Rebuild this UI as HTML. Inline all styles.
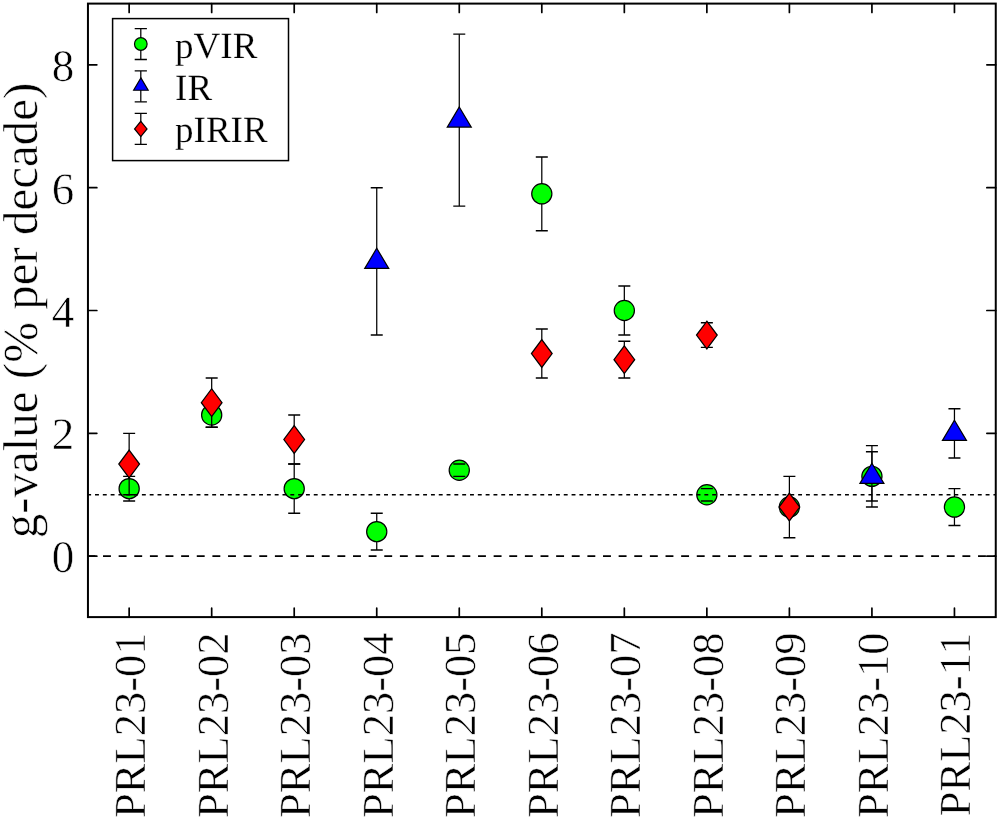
<!DOCTYPE html>
<html><head><meta charset="utf-8"><style>
html,body{margin:0;padding:0;background:#fff;width:999px;height:819px;overflow:hidden}
text{font-family:"Liberation Serif",serif;fill:#000;stroke:#fff;stroke-width:0.55px;text-rendering:geometricPrecision}
</style></head><body>
<svg width="999" height="819" viewBox="0 0 999 819" style="display:block;will-change:transform"><rect width="999" height="819" fill="#fff"/><path d="M129.15 476.35V500.92" stroke="#000" stroke-width="1.25" fill="none"/><circle cx="129.15" cy="488.64" r="10.1" fill="#00ff00" stroke="#000" stroke-width="1.2"/><path d="M123.15 476.35H135.15M123.15 500.92H135.15" stroke="#000" stroke-width="1.45" fill="none"/><path d="M211.68 402.65V427.22" stroke="#000" stroke-width="1.25" fill="none"/><circle cx="211.68" cy="414.93" r="10.1" fill="#00ff00" stroke="#000" stroke-width="1.2"/><path d="M205.68 402.65H217.68M205.68 427.22H217.68" stroke="#000" stroke-width="1.45" fill="none"/><path d="M294.21 464.07V513.21" stroke="#000" stroke-width="1.25" fill="none"/><circle cx="294.21" cy="488.64" r="10.1" fill="#00ff00" stroke="#000" stroke-width="1.2"/><path d="M288.21 464.07H300.21M288.21 513.21H300.21" stroke="#000" stroke-width="1.45" fill="none"/><path d="M376.74 513.21V550.06" stroke="#000" stroke-width="1.25" fill="none"/><circle cx="376.74" cy="531.63" r="10.1" fill="#00ff00" stroke="#000" stroke-width="1.2"/><path d="M370.74 513.21H382.74M370.74 550.06H382.74" stroke="#000" stroke-width="1.45" fill="none"/><path d="M459.27 464.07V476.35" stroke="#000" stroke-width="1.25" fill="none"/><circle cx="459.27" cy="470.21" r="10.1" fill="#00ff00" stroke="#000" stroke-width="1.2"/><path d="M453.27 464.07H465.27M453.27 476.35H465.27" stroke="#000" stroke-width="1.45" fill="none"/><path d="M541.80 156.97V230.67" stroke="#000" stroke-width="1.25" fill="none"/><circle cx="541.80" cy="193.82" r="10.1" fill="#00ff00" stroke="#000" stroke-width="1.2"/><path d="M535.80 156.97H547.80M535.80 230.67H547.80" stroke="#000" stroke-width="1.45" fill="none"/><path d="M624.33 285.95V335.09" stroke="#000" stroke-width="1.25" fill="none"/><circle cx="624.33" cy="310.52" r="10.1" fill="#00ff00" stroke="#000" stroke-width="1.2"/><path d="M618.33 285.95H630.33M618.33 335.09H630.33" stroke="#000" stroke-width="1.45" fill="none"/><path d="M706.86 488.64V500.92" stroke="#000" stroke-width="1.25" fill="none"/><circle cx="706.86" cy="494.78" r="10.1" fill="#00ff00" stroke="#000" stroke-width="1.2"/><path d="M700.86 488.64H712.86M700.86 500.92H712.86" stroke="#000" stroke-width="1.45" fill="none"/><path d="M789.39 500.92V513.21" stroke="#000" stroke-width="1.25" fill="none"/><circle cx="789.39" cy="507.06" r="10.1" fill="#00ff00" stroke="#000" stroke-width="1.2"/><path d="M783.39 500.92H795.39M783.39 513.21H795.39" stroke="#000" stroke-width="1.45" fill="none"/><path d="M871.92 451.79V500.92" stroke="#000" stroke-width="1.25" fill="none"/><circle cx="871.92" cy="476.35" r="10.1" fill="#00ff00" stroke="#000" stroke-width="1.2"/><path d="M865.92 451.79H877.92M865.92 500.92H877.92" stroke="#000" stroke-width="1.45" fill="none"/><path d="M954.45 488.64V525.49" stroke="#000" stroke-width="1.25" fill="none"/><circle cx="954.45" cy="507.06" r="10.1" fill="#00ff00" stroke="#000" stroke-width="1.2"/><path d="M948.45 488.64H960.45M948.45 525.49H960.45" stroke="#000" stroke-width="1.45" fill="none"/><path d="M87.2 494.78H995.76" stroke="#000" stroke-width="1.4" stroke-dasharray="3.9 3.9125"/><path d="M87.4 556.20H995.76" stroke="#000" stroke-width="1.7" stroke-dasharray="7.9 7.725"/><path d="M376.74 187.68V335.09" stroke="#000" stroke-width="1.25" fill="none"/><path d="M370.74 187.68H382.74M370.74 335.09H382.74" stroke="#000" stroke-width="1.45" fill="none"/><path d="M376.74 248.28L388.74 268.38L364.74 268.38Z" fill="#0000ff" stroke="#000" stroke-width="1.2" stroke-linejoin="miter"/><path d="M459.27 34.13V206.11" stroke="#000" stroke-width="1.25" fill="none"/><path d="M453.27 34.13H465.27M453.27 206.11H465.27" stroke="#000" stroke-width="1.45" fill="none"/><path d="M459.27 107.02L471.27 127.12L447.27 127.12Z" fill="#0000ff" stroke="#000" stroke-width="1.2" stroke-linejoin="miter"/><path d="M871.92 445.64V507.06" stroke="#000" stroke-width="1.25" fill="none"/><path d="M865.92 445.64H877.92M865.92 507.06H877.92" stroke="#000" stroke-width="1.45" fill="none"/><path d="M871.92 463.25L883.92 483.35L859.92 483.35Z" fill="#0000ff" stroke="#000" stroke-width="1.2" stroke-linejoin="miter"/><path d="M954.45 408.79V457.93" stroke="#000" stroke-width="1.25" fill="none"/><path d="M948.45 408.79H960.45M948.45 457.93H960.45" stroke="#000" stroke-width="1.45" fill="none"/><path d="M954.45 420.26L966.45 440.36L942.45 440.36Z" fill="#0000ff" stroke="#000" stroke-width="1.2" stroke-linejoin="miter"/><path d="M129.15 433.36V494.78" stroke="#000" stroke-width="1.25" fill="none"/><path d="M123.15 433.36H135.15M123.15 494.78H135.15" stroke="#000" stroke-width="1.45" fill="none"/><path d="M129.15 450.17L139.50 464.07L129.15 477.97L118.80 464.07Z" fill="#ff0000" stroke="#000" stroke-width="1.25"/><path d="M211.68 378.08V427.22" stroke="#000" stroke-width="1.25" fill="none"/><path d="M205.68 378.08H217.68M205.68 427.22H217.68" stroke="#000" stroke-width="1.45" fill="none"/><path d="M211.68 388.75L222.03 402.65L211.68 416.55L201.33 402.65Z" fill="#ff0000" stroke="#000" stroke-width="1.25"/><path d="M294.21 414.93V464.07" stroke="#000" stroke-width="1.25" fill="none"/><path d="M288.21 414.93H300.21M288.21 464.07H300.21" stroke="#000" stroke-width="1.45" fill="none"/><path d="M294.21 425.60L304.56 439.50L294.21 453.40L283.86 439.50Z" fill="#ff0000" stroke="#000" stroke-width="1.25"/><path d="M541.80 328.95V378.08" stroke="#000" stroke-width="1.25" fill="none"/><path d="M535.80 328.95H547.80M535.80 378.08H547.80" stroke="#000" stroke-width="1.45" fill="none"/><path d="M541.80 339.61L552.15 353.51L541.80 367.41L531.45 353.51Z" fill="#ff0000" stroke="#000" stroke-width="1.25"/><path d="M624.33 341.23V378.08" stroke="#000" stroke-width="1.25" fill="none"/><path d="M618.33 341.23H630.33M618.33 378.08H630.33" stroke="#000" stroke-width="1.45" fill="none"/><path d="M624.33 345.76L634.68 359.66L624.33 373.56L613.98 359.66Z" fill="#ff0000" stroke="#000" stroke-width="1.25"/><path d="M706.86 322.80V347.37" stroke="#000" stroke-width="1.25" fill="none"/><path d="M700.86 322.80H712.86M700.86 347.37H712.86" stroke="#000" stroke-width="1.45" fill="none"/><path d="M706.86 321.19L717.21 335.09L706.86 348.99L696.51 335.09Z" fill="#ff0000" stroke="#000" stroke-width="1.25"/><path d="M789.39 476.35V537.77" stroke="#000" stroke-width="1.25" fill="none"/><path d="M783.39 476.35H795.39M783.39 537.77H795.39" stroke="#000" stroke-width="1.45" fill="none"/><path d="M789.39 493.16L799.74 507.06L789.39 520.96L779.04 507.06Z" fill="#ff0000" stroke="#000" stroke-width="1.25"/><rect x="87.95" y="3.6" width="907.81" height="613.50" fill="none" stroke="#000" stroke-width="2.0"/><path d="M129.15 617.1V608.2M129.15 3.6V12.5M211.68 617.1V608.2M211.68 3.6V12.5M294.21 617.1V608.2M294.21 3.6V12.5M376.74 617.1V608.2M376.74 3.6V12.5M459.27 617.1V608.2M459.27 3.6V12.5M541.80 617.1V608.2M541.80 3.6V12.5M624.33 617.1V608.2M624.33 3.6V12.5M706.86 617.1V608.2M706.86 3.6V12.5M789.39 617.1V608.2M789.39 3.6V12.5M871.92 617.1V608.2M871.92 3.6V12.5M954.45 617.1V608.2M954.45 3.6V12.5M87.95 556.20H96.85000000000001M995.76 556.20H986.86M87.95 433.36H96.85000000000001M995.76 433.36H986.86M87.95 310.52H96.85000000000001M995.76 310.52H986.86M87.95 187.68H96.85000000000001M995.76 187.68H986.86M87.95 64.84H96.85000000000001M995.76 64.84H986.86" stroke="#000" stroke-width="1.7" stroke-linecap="round"/><text x="74.3" y="572.20" font-size="45" text-anchor="end">0</text><text x="74.3" y="449.36" font-size="45" text-anchor="end">2</text><text x="74.3" y="326.52" font-size="45" text-anchor="end">4</text><text x="74.3" y="203.68" font-size="45" text-anchor="end">6</text><text x="74.3" y="80.84" font-size="45" text-anchor="end">8</text><text transform="translate(145.05 632.50) rotate(-90)" font-size="44.5" text-anchor="end">PRL23-01</text><text transform="translate(227.58 632.50) rotate(-90)" font-size="44.5" text-anchor="end">PRL23-02</text><text transform="translate(310.11 632.50) rotate(-90)" font-size="44.5" text-anchor="end">PRL23-03</text><text transform="translate(392.64 632.50) rotate(-90)" font-size="44.5" text-anchor="end">PRL23-04</text><text transform="translate(475.17 632.50) rotate(-90)" font-size="44.5" text-anchor="end">PRL23-05</text><text transform="translate(557.70 632.50) rotate(-90)" font-size="44.5" text-anchor="end">PRL23-06</text><text transform="translate(640.23 632.50) rotate(-90)" font-size="44.5" text-anchor="end">PRL23-07</text><text transform="translate(722.76 632.50) rotate(-90)" font-size="44.5" text-anchor="end">PRL23-08</text><text transform="translate(805.29 632.50) rotate(-90)" font-size="44.5" text-anchor="end">PRL23-09</text><text transform="translate(887.82 632.50) rotate(-90)" font-size="44.5" text-anchor="end">PRL23-10</text><text transform="translate(970.35 632.50) rotate(-90)" font-size="44.5" text-anchor="end">PRL23-11</text><text transform="translate(36.5 310.5) rotate(-90)" font-size="49" text-anchor="middle">g-value (% per decade)</text><rect x="112.6" y="18.6" width="175.9" height="142" fill="#fff" stroke="#000" stroke-width="1.5"/><path d="M140.8 28.55V59.45" stroke="#000" stroke-width="1.25"/><path d="M140.8 70.90V101.80" stroke="#000" stroke-width="1.25"/><path d="M140.8 113.40V144.30" stroke="#000" stroke-width="1.25"/><circle cx="140.80" cy="44.00" r="6.3" fill="#00ff00" stroke="#000" stroke-width="1.2"/><path d="M140.9 77.85L148.20 90.20L133.60 90.20Z" fill="#0000ff" stroke="#000" stroke-width="1.15"/><path d="M140.80 121.35L147.00 128.95L140.80 136.55L134.60 128.95Z" fill="#ff0000" stroke="#000" stroke-width="1.25"/><path d="M134.70 28.55H146.90M134.70 59.45H146.90" stroke="#000" stroke-width="1.35"/><path d="M134.70 70.90H146.90M134.70 101.80H146.90" stroke="#000" stroke-width="1.35"/><path d="M134.70 113.40H146.90M134.70 144.30H146.90" stroke="#000" stroke-width="1.35"/><text x="175.1" y="57.5" font-size="37" style="stroke-width:0.2px">pVIR</text><text x="175.1" y="100.0" font-size="37" style="stroke-width:0.2px">IR</text><text x="175.1" y="142.4" font-size="37" style="stroke-width:0.2px">pIRIR</text></svg>
</body></html>
